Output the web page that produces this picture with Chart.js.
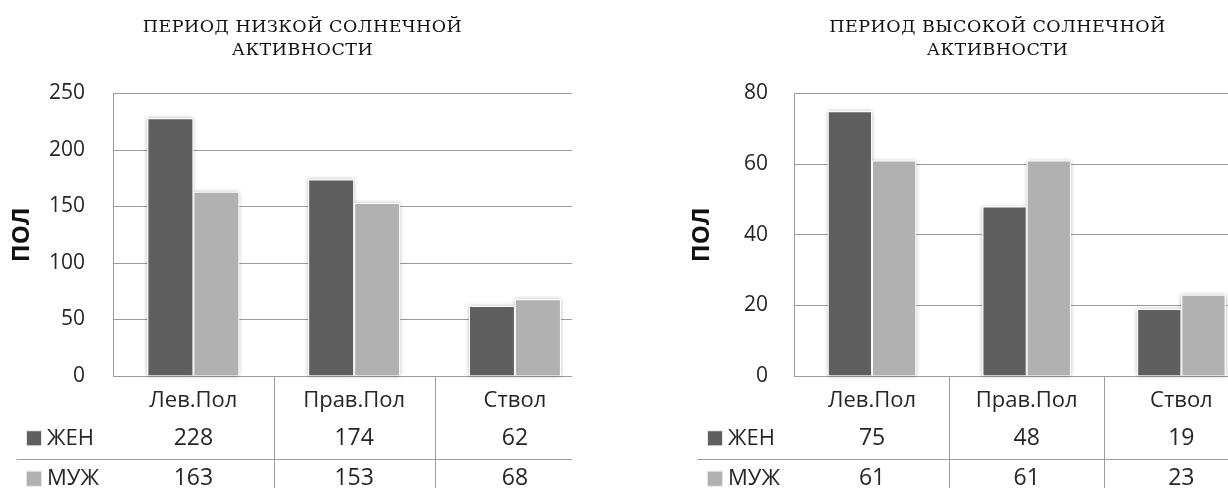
<!DOCTYPE html>
<html>
<head>
<meta charset="utf-8">
<script src="https://cdn.jsdelivr.net/npm/chart.js@4.4.1/dist/chart.umd.min.js"></script>
<style>
  html, body { margin: 0; padding: 0; background: #ffffff; overflow: hidden; }
  body { width: 1228px; height: 488px; position: relative; }
  .panel { position: absolute; top: 0; height: 488px; overflow: hidden; }
  #panelLow { left: 0; width: 572px; }
  #panelHigh { left: 614px; width: 614px; }
  canvas { position: absolute; left: 0; top: 0; }
</style>
</head>
<body>
<div class="panel" id="panelLow"><canvas id="chartLow" width="605" height="488"></canvas></div>
<div class="panel" id="panelHigh"><canvas id="chartHigh" width="767" height="488"></canvas></div>
<script>
// Categories (brain regions) and series
const categories = ['Лев.Пол', 'Прав.Пол', 'Ствол'];
const seriesNames = ['ЖЕН', 'МУЖ'];

// Low solar activity period
const lowTitle = ['ПЕРИОД НИЗКОЙ СОЛНЕЧНОЙ', 'АКТИВНОСТИ'];
const lowFemale = [228, 174, 62];
const lowMale = [163, 153, 68];
const lowTicks = [0, 50, 100, 150, 200, 250];

// High solar activity period
const highTitle = ['ПЕРИОД ВЫСОКОЙ СОЛНЕЧНОЙ', 'АКТИВНОСТИ'];
const highFemale = [75, 48, 19];
const highMale = [61, 61, 23];
const highTicks = [0, 20, 40, 60, 80];

const axisTitle = 'ПОЛ';

const COLORS = ['#5f5f5f', '#b1b1b1'];
const GRID = '#9c9c9c';
const TEXT = '#262626';
const SANS = "'Open Sans', 'Noto Sans', sans-serif";

// two-line serif heading above the plot
const heading = {
  id: 'heading',
  afterDraw(chart, args, opts) {
    const ctx = chart.ctx;
    ctx.save();
    ctx.font = '17.5px "DejaVu Serif", serif';
    if ('letterSpacing' in ctx) ctx.letterSpacing = '0.5px';
    ctx.fillStyle = '#111111';
    ctx.textAlign = 'center';
    ctx.textBaseline = 'alphabetic';
    opts.lines.forEach((line, i) => {
      ctx.fillText(line, opts.centerX, opts.baseline + i * opts.lineGap);
    });
    ctx.restore();
  }
};

// soft halo behind each bar
const barHalo = {
  id: 'barHalo',
  beforeDatasetsDraw(chart) {
    const ctx = chart.ctx;
    ctx.save();
    ctx.shadowColor = 'rgba(0,0,0,0.28)';
    ctx.shadowBlur = 4;
    ctx.fillStyle = '#ffffff';
    chart.data.datasets.forEach((ds, di) => {
      chart.getDatasetMeta(di).data.forEach(el => {
        const p = el.getProps(['x', 'y', 'base', 'width'], true);
        const top = Math.min(p.y, p.base);
        ctx.fillRect(p.x - p.width / 2, top, p.width, Math.abs(p.base - p.y));
      });
    });
    ctx.restore();
  }
};

// data table under the x axis: legend keys, series names, values
const dataTable = {
  id: 'dataTable',
  afterDraw(chart, args, opts) {
    const { ctx, chartArea } = chart;
    const x = chart.scales.x;
    const n = chart.data.labels.length;
    const w = x.getPixelForValue(1) - x.getPixelForValue(0);
    const bottom = chart.height;
    const rowH = opts.rowHeight;
    const row1 = chartArea.bottom + opts.headerHeight;
    ctx.save();
    ctx.strokeStyle = GRID;
    ctx.lineWidth = 1;
    ctx.beginPath();
    for (let k = 1; k <= n; k++) {
      const bx = Math.round(chartArea.left + k * w) + 0.5;
      ctx.moveTo(bx, chartArea.bottom);
      ctx.lineTo(bx, bottom);
    }
    const sepY = Math.round(row1 + rowH) + 0.5;
    ctx.moveTo(opts.lineStart, sepY);
    ctx.lineTo(chartArea.left + n * w, sepY);
    ctx.stroke();

    ctx.textBaseline = 'middle';
    chart.data.datasets.forEach((ds, di) => {
      const cy = row1 + rowH * di + rowH / 2;
      const sq = 14;
      const sx = opts.lineStart + 10.5;
      ctx.fillStyle = '#e6e6e6';
      ctx.fillRect(sx - 1, cy - sq / 2 - 1, sq + 2, sq + 2);
      ctx.fillStyle = ds.backgroundColor;
      ctx.fillRect(sx, cy - sq / 2, sq, sq);
      ctx.fillStyle = TEXT;
      ctx.font = '22px ' + SANS;
      ctx.textAlign = 'left';
      ctx.fillText(ds.label, sx + sq + 6, cy);
      ctx.font = '23px ' + SANS;
      ctx.textAlign = 'center';
      ds.data.forEach((v, i) => {
        ctx.fillText(String(v), x.getPixelForValue(i), cy);
      });
    });
    ctx.restore();
  }
};

function makeChart(id, title, female, male, ticks, geo) {
  return new Chart(document.getElementById(id), {
    type: 'bar',
    data: {
      labels: categories,
      datasets: [
        { label: seriesNames[0], data: female, backgroundColor: COLORS[0], borderColor: '#ffffff', borderWidth: 1 },
        { label: seriesNames[1], data: male, backgroundColor: COLORS[1], borderColor: '#ffffff', borderWidth: 1 }
      ]
    },
    options: {
      responsive: false,
      animation: false,
      devicePixelRatio: 1,
      categoryPercentage: 0.572,
      barPercentage: 1,
      layout: { padding: { left: geo.padLeft, right: geo.padRight, top: 93.5, bottom: 0 } },
      plugins: {
        legend: { display: false },
        tooltip: { enabled: false },
        title: { display: false },
        heading: { lines: title, centerX: geo.titleX, baseline: 31.5, lineGap: 23 },
        dataTable: { lineStart: geo.lineStart, headerHeight: 42, rowHeight: 40.5 }
      },
      scales: {
        x: {
          grid: { display: false },
          border: { display: true, color: GRID },
          ticks: { color: TEXT, font: { family: SANS, size: 22 }, padding: 3.5, maxRotation: 0, autoSkip: false },
          afterFit(s) { s.height = 112; }
        },
        y: {
          min: ticks[0],
          max: ticks[ticks.length - 1],
          afterBuildTicks(s) { s.ticks = ticks.map(v => ({ value: v })); },
          grid: { color: GRID, drawTicks: false },
          border: { display: true, color: GRID },
          ticks: { color: TEXT, font: { family: SANS, size: 21 }, padding: geo.tickPad },
          title: {
            display: true,
            text: axisTitle,
            color: '#111111',
            font: { family: SANS, size: 24, weight: 'bold' },
            padding: { top: 4, bottom: 0 }
          },
          afterFit(s) { s.width = geo.yWidth; }
        }
      }
    },
    plugins: [barHalo, dataTable, heading]
  });
}

makeChart('chartLow', lowTitle, lowFemale, lowMale, lowTicks,
  { padLeft: 3.6, padRight: 9.7, yWidth: 109.4, tickPad: 28, lineStart: 16.5, titleX: 302.5 });
makeChart('chartHigh', highTitle, highFemale, highMale, highTicks,
  { padLeft: 69.6, padRight: 122.3, yWidth: 111.1, tickPad: 26.7, lineStart: 83.5, titleX: 383.5 });
</script>
</body>
</html>
